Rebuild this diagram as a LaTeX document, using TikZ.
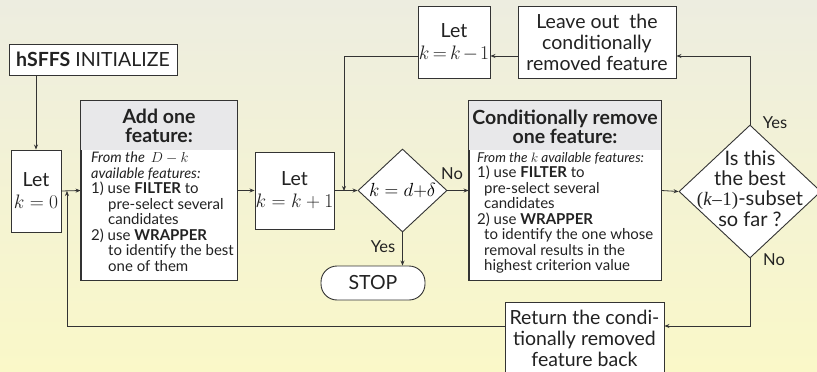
\RequirePackage{fix-cm}
\documentclass[tikz,border=0pt]{standalone}
\usepackage[no-math]{fontspec}
\setmainfont{Lato}
\newfontfamily\tms{Liberation Serif}
\usetikzlibrary{shapes.geometric,arrows.meta}
\definecolor{bgtop}{HTML}{EDEDE0}
\definecolor{bgbot}{HTML}{FAF8C8}
\definecolor{ln}{HTML}{333333}
\definecolor{hdr}{HTML}{E8E8EA}
\definecolor{tx}{HTML}{222222}
\begin{document}
\begin{tikzpicture}[x=1pt,y=-1pt,
  box/.style={draw=ln, line width=0.9pt, fill=white, inner sep=0pt, align=center, text=tx},
  arr/.style={draw=ln, line width=0.8pt, -{Stealth[length=5pt,width=4pt]}},
  dia/.style={diamond, draw=ln, line width=0.9pt, fill=white, inner sep=0pt},
  big/.style={font=\fontsize{19.5}{21}\selectfont},
  mid/.style={font=\fontsize{20}{20.3}\selectfont},
  body/.style={font=\fontsize{15}{15.5}\selectfont, align=left, anchor=north west, inner sep=0pt, text=tx},
  hd/.style={font=\fontsize{19.5}{19}\selectfont\bfseries, align=center, text=tx, inner sep=0pt},
  lbl/.style={font=\fontsize{16.5}{18}\selectfont, text=tx, inner sep=0pt}
]
\useasboundingbox (0,0) rectangle (817,372);
\shade[top color=bgtop, bottom color=bgbot] (0,0) rectangle (817,372);

\coordinate (toplev) at (0,56);
\coordinate (retlev) at (0,326);
\coordinate (j1) at (344,191);
\coordinate (j0) at (67,191);

% nodes
\node[box, big, minimum width=168pt, minimum height=31pt] (init) at (93,59.5) {\textbf{hSFFS} INITIALIZE};
\node[box, big, minimum width=50pt, minimum height=82pt] (let0) at (36,191) {Let\\[1pt]$k=0$};

\node[box, minimum width=156pt, minimum height=179pt] (add) at (159,190.5) {};
\fill[hdr] ([shift={(0.45pt,-0.45pt)}]add.north west) rectangle ([shift={(-0.45pt,-49pt)}]add.north east);
\draw[ln, line width=0.9pt] (add.north west) rectangle (add.south east);
\node[hd] (addh) at (159,126) {Add one\\feature:};
\node[body] (addb) at (91,152) {%
{\fontsize{14.5}{15.5}\selectfont\itshape From the \,$D-k$}\\
{\fontsize{14.5}{15.5}\selectfont\itshape available features:}\\
1) use \textbf{FILTER} to\\
\hspace*{17pt}pre-select several\\
\hspace*{17pt}candidates\\
2) use \textbf{WRAPPER}\\
\hspace*{17pt}to identify the best\\
\hspace*{17pt}one of them};

\node[box, big, minimum width=79pt, minimum height=77pt] (letp) at (294.5,190.5) {Let\\[1pt]$k=k+1$};

\node[dia, minimum width=89pt, minimum height=83pt] (d1) at (402.5,190.5) {};
\node[font=\fontsize{19}{20}\selectfont] at (d1.center) {$k=d{+}\delta$};

\node[box, big, rounded corners=16pt, minimum width=104pt, minimum height=34pt] (stop) at (373,283) {STOP};

\node[box, minimum width=192pt, minimum height=179pt] (cond) at (565,190.5) {};
\fill[hdr] ([shift={(0.45pt,-0.45pt)}]cond.north west) rectangle ([shift={(-0.45pt,-49pt)}]cond.north east);
\draw[ln, line width=0.9pt] (cond.north west) rectangle (cond.south east);
\node[hd] (condh) at (565,127) {Conditionally remove\\one feature:};
\node[body] (condb) at (477,152) {%
{\fontsize{13.6}{15.5}\selectfont\itshape From the $k$ available features:}\\
1) use \textbf{FILTER} to\\
\hspace*{7pt}pre-select several\\
\hspace*{7pt}candidates\\
2) use \textbf{WRAPPER}\\
\hspace*{7pt}to identify the one whose\\
\hspace*{7pt}removal results in the\\
\hspace*{7pt}highest criterion value};

\node[box, big, minimum width=72pt, minimum height=72pt] (letm) at (454,42) {Let\\[1pt]{\thickmuskip=3mu \medmuskip=2mu $k=k-1$}};
\node[box, big, minimum width=158pt, minimum height=72pt] (leave) at (597,42) {Leave out \ the\\conditionally\\removed feature};

\node[dia, minimum width=142pt, minimum height=133pt] (d2) at (750,191.5) {};
\node[mid, align=center, text=tx] at ([yshift=3pt]d2.center) {Is this\\the best\\{\tms\fontsize{19}{20}\selectfont(\textit{k}\kern0.5pt–\kern0.5pt1)}-subset\\so far ?};

\node[box, big, minimum width=159pt, minimum height=72pt] (ret) at (584.5,338) {Return the condi-\\tionally removed\\feature back};

% labels
\node[lbl] at (383,247) {Yes};
\node[lbl] at (452,174) {No};
\node[lbl] at (775,123) {Yes};
\node[lbl] at (774,260) {No};

% connectors
\draw[arr] (let0.north |- init.south) -- (let0.north);
\draw[arr] (let0.east) -- (add.west);
\draw[arr] (add.east) -- (letp.west);
\draw[arr] (letp.east) -- (d1.west);
\draw[arr] (d1.east) -- (cond.west);
\draw[arr] (cond.east) -- (d2.west);
\draw[arr] (d1.south) -- (d1.south |- stop.north);
\draw[arr] (d2.north) |- (leave.east |- toplev);
\draw[arr] (leave.west |- toplev) -- (letm.east |- toplev);
\draw[arr] (letm.west |- toplev) -| (j1);
\draw[arr] (d2.south) |- (ret.east |- retlev);
\draw[arr] (ret.west |- retlev) -| (j0);
\end{tikzpicture}
\end{document}
